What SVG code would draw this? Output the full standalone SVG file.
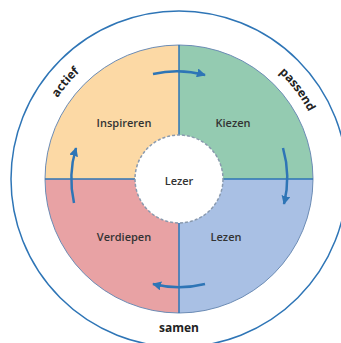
<svg xmlns="http://www.w3.org/2000/svg" width="341" height="343" viewBox="0 0 341 343">
<style>
.q{stroke:none}
.lbl{font-family:"Open Sans","Liberation Sans",sans-serif;font-size:11px;font-weight:600;fill:#333;text-anchor:middle}
.ring{font-family:"Open Sans","Liberation Sans",sans-serif;font-size:12px;font-weight:700;fill:#222;text-anchor:middle}
.div{stroke:#2E75B6;stroke-width:1.5;fill:none}
.arr{stroke:#2E75B6;stroke-width:2.5;fill:none;marker-end:url(#ah)}
</style>
<defs>
<marker id="ah" viewBox="0 0 10 10" refX="9" refY="5" markerUnits="userSpaceOnUse" markerWidth="9" markerHeight="9" orient="auto">
<path d="M0,0 L10,5 L0,10 z" fill="#2E75B6"/>
</marker>
<path id="ringpath" d="M33 179 A146 146 0 0 1 325 179"/>
</defs>
<rect width="341" height="343" fill="#fff"/>
<circle id="outer" cx="179" cy="179" r="168" fill="none" stroke="#2E75B6" stroke-width="1.5"/>
<g id="inspireren">
<path class="q" d="M179 179 L45 179 A134 134 0 0 1 179 45 Z" fill="#FCD9A5"/>
<text class="lbl" x="124" y="127">Inspireren</text>
</g>
<g id="kiezen">
<path class="q" d="M179 179 L179 45 A134 134 0 0 1 313 179 Z" fill="#94CBB1"/>
<text class="lbl" x="233" y="127">Kiezen</text>
</g>
<g id="lezen">
<path class="q" d="M179 179 L313 179 A134 134 0 0 1 179 313 Z" fill="#A9C0E4"/>
<text class="lbl" x="226" y="241">Lezen</text>
</g>
<g id="verdiepen">
<path class="q" d="M179 179 L179 313 A134 134 0 0 1 45 179 Z" fill="#E8A2A4"/>
<text class="lbl" x="124" y="241">Verdiepen</text>
</g>
<circle cx="179" cy="179" r="134" fill="none" stroke="#6C8CB5" stroke-width="1"/>
<g id="dividers">
<line class="div" x1="179" y1="45" x2="179" y2="313"/>
<line class="div" x1="45" y1="179" x2="313" y2="179"/>
</g>
<g id="lezer">
<circle cx="179" cy="179" r="44" fill="#fff" stroke="#8A9AAE" stroke-width="1.5" stroke-dasharray="3 2"/>
<text class="lbl" x="179" y="185">Lezer</text>
</g>
<g id="connectors">
<path class="arr" d="M153 74 A108 108 0 0 1 205 75"/>
<path class="arr" d="M283 148 A108 108 0 0 1 284 204"/>
<path class="arr" d="M205 284 A108 108 0 0 1 153 284"/>
<path class="arr" d="M74 203 A108 108 0 0 1 76 148"/>
</g>
<g id="ring-labels">
<text class="ring"><textPath href="#ringpath" startOffset="103">actief</textPath></text>
<text class="ring"><textPath href="#ringpath" startOffset="364">passend</textPath></text>
<text class="ring" x="179" y="332">samen</text>
</g>
</svg>
